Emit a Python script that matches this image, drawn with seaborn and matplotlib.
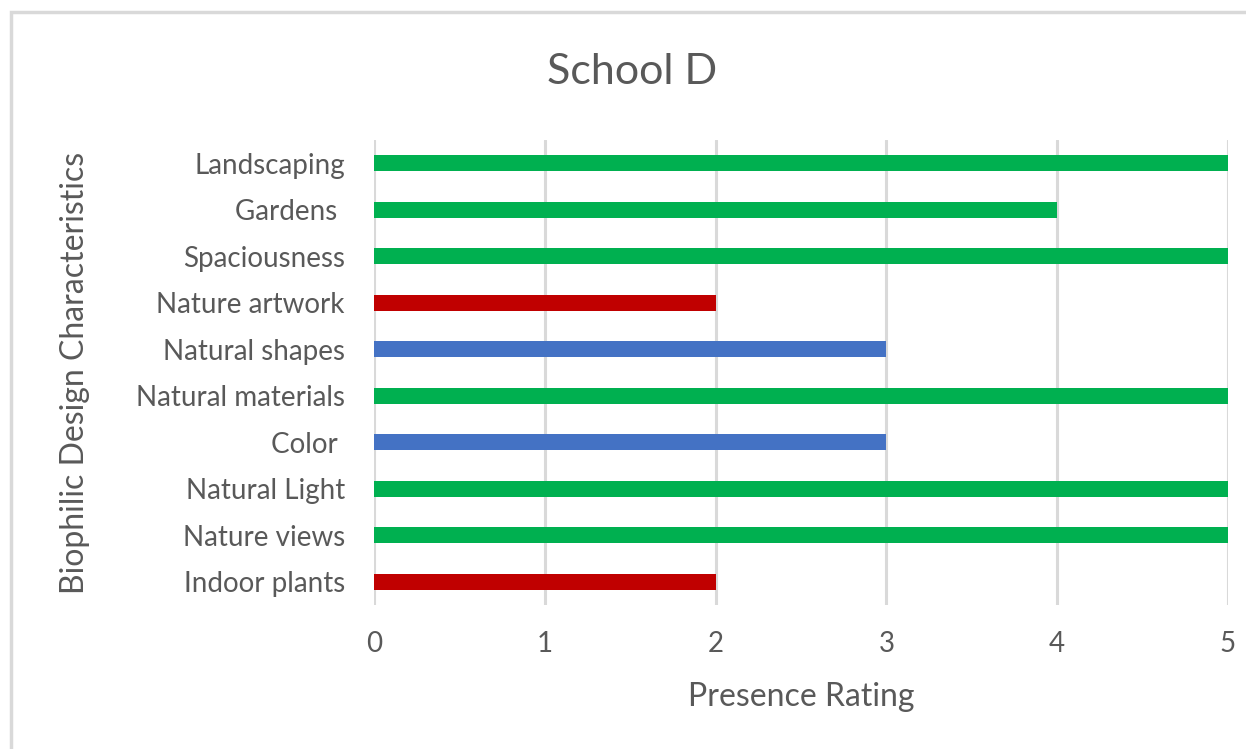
import matplotlib
matplotlib.use("Agg")
import matplotlib.pyplot as plt
from matplotlib.patches import Rectangle
import seaborn as sns
import pandas as pd

# Biophilic design characteristics, listed top to bottom
characteristics = [
    "Landscaping", "Gardens ", "Spaciousness", "Nature artwork", "Natural shapes",
    "Natural materials", "Color ", "Natural Light", "Nature views", "Indoor plants",
]
ratings = [5, 4, 5, 2, 3, 5, 3, 5, 5, 2]
bar_colors = [
    "#00B050", "#00B050", "#00B050", "#C00000", "#4472C4",
    "#00B050", "#4472C4", "#00B050", "#00B050", "#C00000",
]
x_ticks = [0, 1, 2, 3, 4, 5]

df = pd.DataFrame({"Characteristic": characteristics, "Rating": ratings})

sns.set_theme(style="white")
plt.rcParams["font.family"] = ["Lato", "DejaVu Sans"]

text_color = "#595959"
grid_color = "#D9D9D9"

fig = plt.figure(figsize=(12.46, 7.49), dpi=100)
W, H = 1246, 749
ax_left, ax_right, ax_top, ax_bottom = 374, 1228, 140, 605
ax = fig.add_axes([ax_left / W, 1 - ax_bottom / H,
                   (ax_right - ax_left) / W, (ax_bottom - ax_top) / H])

sns.barplot(
    data=df, x="Rating", y="Characteristic", hue="Characteristic",
    palette=bar_colors, legend=False, width=0.35, ax=ax, orient="h",
    saturation=1, edgecolor="none", linewidth=0,
)

ax.set_xlim(0, 5)
ax.set_ylim(len(characteristics) - 0.5, -0.5)
ax.set_xticks(x_ticks)
ax.set_xticklabels([str(t) for t in x_ticks])
ax.xaxis.grid(True, color=grid_color, linewidth=2.2)
ax.yaxis.grid(False)
ax.set_axisbelow(True)
for s in ax.spines.values():
    s.set_visible(False)
ax.tick_params(axis="both", length=0, colors=text_color, labelsize=20)
ax.tick_params(axis="x", pad=19)
ax.tick_params(axis="y", pad=21)

ax.set_xlabel("Presence Rating", fontsize=23, color=text_color)
ax.set_ylabel("Biophilic Design Characteristics", fontsize=23, color=text_color)
ax.xaxis.label.set_va("center")
ax.yaxis.label.set_va("center")
ax.xaxis.set_label_coords(0.5, (ax_bottom - 697) / (ax_bottom - ax_top))
ax.yaxis.set_label_coords((75 - ax_left) / (ax_right - ax_left), 0.5)

fig.text(632 / W, 1 - 72 / H, "School D", fontsize=31, color=text_color,
         ha="center", va="center")

# chart frame
fig.patches.append(Rectangle((11 / W, -0.1), 1.2, 1 - 12 / H + 0.1,
                             transform=fig.transFigure, fill=False,
                             edgecolor="#D9D9D9", linewidth=2.5))

fig.savefig("out.png", dpi=100, facecolor="white")
